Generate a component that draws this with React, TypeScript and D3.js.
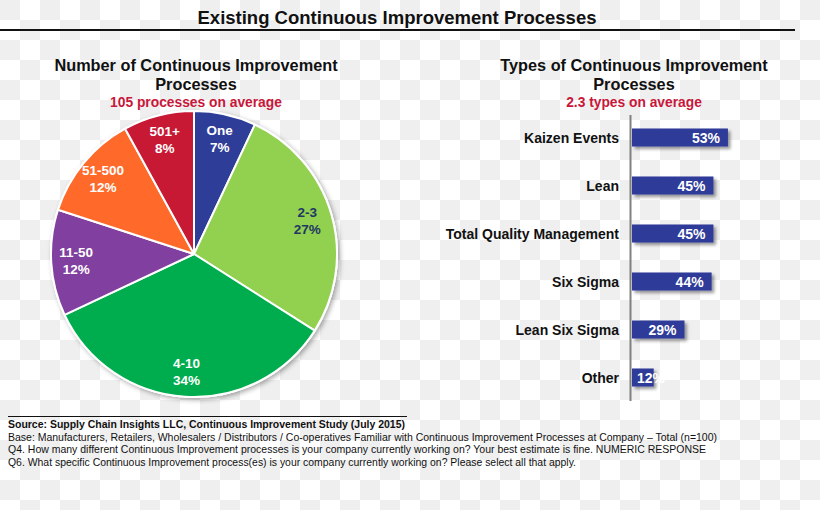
import React from "react";
import * as d3 from "d3";

const pieLabels = ["One", "2-3", "4-10", "11-50", "51-500", "501+"];
const pieValues = [7, 27, 34, 12, 12, 8];
const pieColors = ["#2E3D98", "#92D04F", "#00AD4E", "#8140A0", "#FF6A2B", "#C81934"];
const pieTextColors = ["#ffffff", "#1F3864", "#ffffff", "#ffffff", "#ffffff", "#ffffff"];

const barCategories = ["Kaizen Events", "Lean", "Total Quality Management", "Six Sigma", "Lean Six Sigma", "Other"];
const barValues = [53, 45, 45, 44, 29, 12];

const footnotes = [
  "Source:  Supply Chain Insights LLC, Continuous Improvement Study (July 2015)",
  "Base:  Manufacturers, Retailers, Wholesalers / Distributors / Co-operatives Familiar with Continuous Improvement Processes at Company \u2013 Total (n=100)",
  "Q4. How many different Continuous Improvement processes is your company currently working on?  Your best estimate is fine. NUMERIC RESPONSE",
  "Q6. What specific Continuous Improvement process(es) is your company currently working on? Please select all that apply.",
];
const footnoteWidths = [397, 709, 698, 568];

const W = 820;
const H = 510;
const FONT = "'Liberation Sans', Arial, sans-serif";
const NARROW = "'Liberation Sans Narrow', 'Liberation Sans', Arial, sans-serif";

export default function App() {
  const cx = 194;
  const cy = 254;
  const R = 143;
  const pie = d3.pie<number>().sort(null).value((d) => d)(pieValues);
  const arc = d3.arc<d3.PieArcDatum<number>>().innerRadius(0).outerRadius(R);
  const labelArc = d3.arc<d3.PieArcDatum<number>>().innerRadius(118).outerRadius(118);

  const x = d3.scaleLinear().domain([0, 100]).range([632, 813]);
  const y = d3.scaleBand().domain(barCategories).range([113.5, 401.5]).paddingInner(0.625).paddingOuter(0.3125);
  const valueLabelWidth = 31;

  return (
    <svg width={W} height={H} style={{ position: "absolute", left: 0, top: 0 }}>
      <defs>
        <pattern id="checker" width={40} height={40} patternUnits="userSpaceOnUse">
          <rect width={40} height={40} fill="#ffffff" />
          <rect x={0} y={0} width={20} height={20} fill="#efefef" />
          <rect x={20} y={20} width={20} height={20} fill="#efefef" />
        </pattern>
        <filter id="pieShadow" x="-20%" y="-20%" width="140%" height="140%">
          <feDropShadow dx={2} dy={2} stdDeviation={2.5} floodColor="#000" floodOpacity={0.35} />
        </filter>
        <filter id="barShadow" x="-20%" y="-40%" width="140%" height="180%">
          <feDropShadow dx={2.5} dy={2.5} stdDeviation={1.5} floodColor="#000" floodOpacity={0.4} />
        </filter>
      </defs>
      <rect width={W} height={H} fill="url(#checker)" />

      {/* main title */}
      <text x={397} y={24} textAnchor="middle" fontFamily={NARROW} fontWeight="bold" fontSize={18} fill="#111" textLength={399} lengthAdjust="spacingAndGlyphs">
        Existing Continuous Improvement Processes
      </text>
      <line x1={0} x2={795} y1={30} y2={30} stroke="#111" strokeWidth={2} />

      {/* sub titles */}
      <g fontFamily={FONT} fontWeight="bold" textAnchor="middle">
        <text x={196} y={71} fontSize={16.3} fill="#111">Number of Continuous Improvement</text>
        <text x={196} y={90} fontSize={16.3} fill="#111">Processes</text>
        <text x={196} y={107} fontSize={13.8} fill="#C8173A">105 processes on average</text>
        <text x={634} y={71} fontSize={16.3} fill="#111">Types of Continuous Improvement</text>
        <text x={634} y={90} fontSize={16.3} fill="#111">Processes</text>
        <text x={634} y={107} fontSize={13.8} fill="#C8173A">2.3 types on average</text>
      </g>

      {/* pie */}
      <g transform={`translate(${cx},${cy})`}>
        <circle r={R + 1} fill="#fff" filter="url(#pieShadow)" />
        {pie.map((d, i) => (
          <path key={i} d={arc(d) || ""} fill={pieColors[i]} stroke="#fff" strokeWidth={2} strokeLinejoin="round" />
        ))}
        {pie.map((d, i) => {
          const [lx, ly] = labelArc.centroid(d);
          return (
            <text key={"l" + i} x={lx} y={ly} textAnchor="middle" fontFamily={FONT} fontWeight="bold" fontSize={13.5} fill={pieTextColors[i]}>
              <tspan x={lx} dy={-4}>{pieLabels[i]}</tspan>
              <tspan x={lx} dy={17}>{pieValues[i] + "%"}</tspan>
            </text>
          );
        })}
      </g>

      {/* bars */}
      <g>
        {barCategories.map((c, i) => (
          <rect key={c} x={x(0)} y={y(c)} width={x(barValues[i]) - x(0)} height={y.bandwidth()} fill="#2D3A98" filter="url(#barShadow)" />
        ))}
        {barCategories.map((c, i) => (
          <text key={"v" + c} x={Math.max(x(barValues[i]) - 8, x(0) + 2 + valueLabelWidth)} y={(y(c) || 0) + y.bandwidth() / 2 + 5} textAnchor="end" fontFamily={FONT} fontWeight="bold" fontSize={14} fill="#fff">
            {barValues[i] + "%"}
          </text>
        ))}
        {barCategories.map((c) => (
          <text key={"c" + c} x={619} y={(y(c) || 0) + y.bandwidth() / 2 + 5} textAnchor="end" fontFamily={FONT} fontWeight="bold" fontSize={14} fill="#111">
            {c}
          </text>
        ))}
        <line x1={630.5} x2={630.5} y1={115} y2={401} stroke="#808080" strokeWidth={2} />
      </g>

      {/* footnotes */}
      <line x1={8} x2={407} y1={416.5} y2={416.5} stroke="#111" strokeWidth={1} />
      {footnotes.map((t, i) => (
        <text key={i} x={8} y={428 + i * 12.5} fontFamily={NARROW} fontWeight={i === 0 ? "bold" : "normal"} fontSize={11} fill="#111" textLength={footnoteWidths[i]} lengthAdjust="spacingAndGlyphs">
          {t}
        </text>
      ))}
    </svg>
  );
}
